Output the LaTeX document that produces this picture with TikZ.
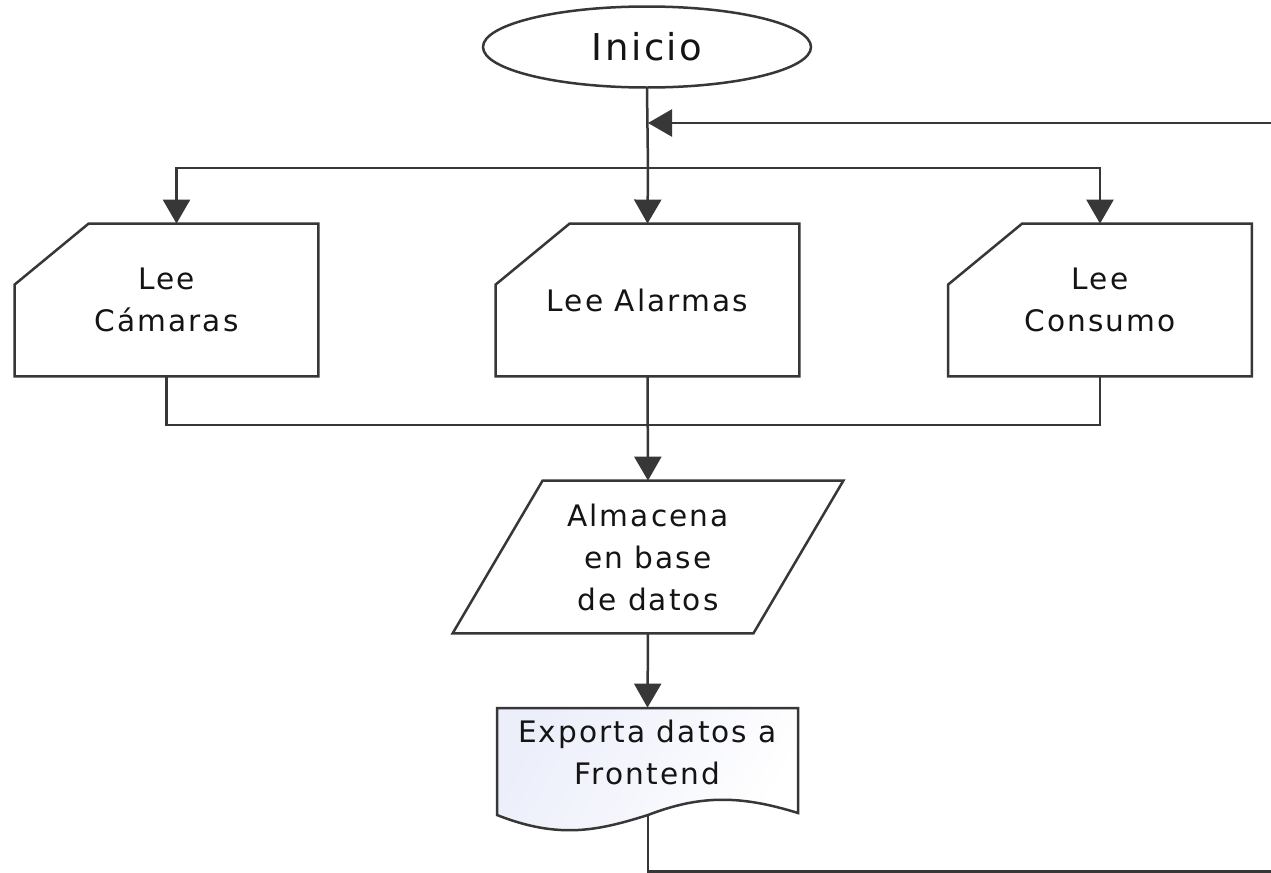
\documentclass[tikz,border=0pt]{standalone}
\usepackage{fontspec}
\setmainfont{DejaVu Sans}[LetterSpace=7]
\usetikzlibrary{arrows.meta,shapes.geometric,calc}
\definecolor{ln}{RGB}{55,55,55}
\definecolor{txtc}{RGB}{20,20,20}
\definecolor{docc}{RGB}{236,238,250}
\begin{document}
\begin{tikzpicture}[x=0.5pt,y=-0.5pt,
  conn/.style={draw=ln, line width=1.25pt},
  arr/.style={conn, -{Triangle[length=12pt,width=13.5pt]}},
  txt/.style={font=\fontsize{14.8}{21}\selectfont, text=txtc, align=center, inner sep=0pt},
  cardbox/.style={txt, minimum width=151.5pt, minimum height=76pt, draw=none},
]
\useasboundingbox (0,0) rectangle (1271,873);
\clip (0,0) rectangle (1271,873);
\fill[white] (0,0) rectangle (1271,873);

% start
\node[ellipse, draw=ln, line width=1.25pt, minimum width=164pt, minimum height=40.5pt,
      inner sep=0pt, font=\fontsize{18.5}{23}\selectfont, text=txtc] (inicio) at (647,47) {Inicio};

% manual input cards
\node[cardbox] (cam) at (166.5,300) {Lee\\Cámaras};
\node[cardbox] (ala) at (647.5,300) {Lee Alarmas};
\node[cardbox] (con) at (1100,300) {Lee\\Consumo};
\foreach \n in {cam,ala,con}
  \draw[conn] ([xshift=37pt]\n.north west) -- (\n.north east) -- (\n.south east)
     -- (\n.south west) -- ([yshift=-30.5pt]\n.north west) -- cycle;

% data (parallelogram)
\node[txt, minimum width=150pt, minimum height=76pt] (alm) at (648,557) {Almacena\\en base\\de datos};
\draw[conn] ([xshift=22.5pt]alm.north west) -- ([xshift=22.5pt]alm.north east)
   -- ([xshift=-22.5pt]alm.south east) -- ([xshift=-22.5pt]alm.south west) -- cycle;

% document
\path[draw=ln, line width=1.25pt, left color=docc, right color=white, shading angle=60]
  (497,708) -- (798,708) -- (798,813) .. controls (740,795) and (700,795) .. (648,815)
  .. controls (600,830) and (560,840) .. (497,815) -- cycle;
\node[txt, minimum width=150.5pt, minimum height=44pt] (exp) at (647.5,752) {Exporta datos a\\Frontend};

% connectors
\coordinate (ret) at (648,123);
\coordinate (split) at (648,168);
\coordinate (merge) at (648,425);
\coordinate (expout) at (648,815);
\coordinate (botR) at (1300,871.5);

\draw[conn] (inicio.south) -- (split);
\draw[arr] (split) -- (ala.north);
\draw[arr] (split) -| ([xshift=5pt]cam.north);
\draw[arr] (split) -| (con.north);
\draw[conn] (cam.south) |- (merge);
\draw[conn] (con.south) |- (merge);
\draw[arr] (ala.south) -- (alm.north);
\draw[arr] (alm.south) -- (exp.north);
\draw[arr] (expout) |- (botR) |- (ret);
\end{tikzpicture}
\end{document}
